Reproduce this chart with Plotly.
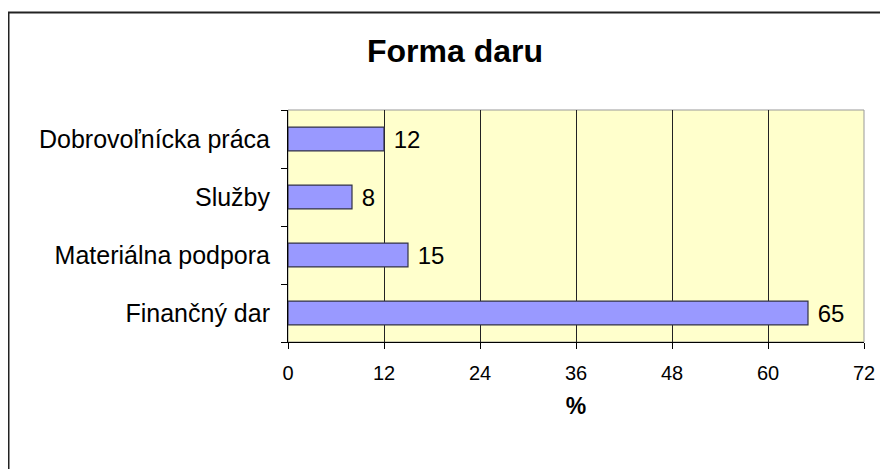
import plotly.graph_objects as go

categories = ["Finančný dar", "Materiálna podpora", "Služby", "Dobrovoľnícka práca"]
values = [65, 15, 8, 12]
x_ticks = [0, 12, 24, 36, 48, 60, 72]
title_text = "Forma daru"
x_title = "%"

OFF = 8  # default body margin of the html page
W, H = 888 - OFF, 469 - OFF
# plot area in page pixels
L, R, T, B = 288, 864, 110, 342

def px(x):
    return (x - L) / (R - L)

def py(y):
    return (B - y) / (B - T)

FONT = "Liberation Sans, Arial, sans-serif"

fig = go.Figure(
    go.Bar(
        y=categories,
        x=values,
        orientation="h",
        width=0.41,
        marker=dict(color="#9999FF", line=dict(color="#333344", width=1.2)),
        text=[str(v) for v in values],
        texttemplate=" %{text}",
        textposition="outside",
        constraintext="none",
        textfont=dict(family=FONT, size=24, color="#000000"),
        cliponaxis=False,
    )
)

fig.update_layout(
    width=W,
    height=H,
    margin=dict(l=L - OFF, r=W - (R - OFF), t=T - OFF, b=H - (B - OFF), pad=0),
    paper_bgcolor="#FFFFFF",
    plot_bgcolor="#FFFFCC",
    showlegend=False,
    font=dict(family=FONT, color="#000000"),
    bargap=0.59,
    uniformtext=dict(mode=False),
)

fig.update_xaxes(
    range=[0, 72],
    tickmode="array",
    tickvals=x_ticks,
    ticktext=[str(t) for t in x_ticks],
    showgrid=True,
    gridcolor="#222222",
    gridwidth=1,
    zeroline=False,
    showline=True,
    linecolor="#000000",
    linewidth=1,
    ticks="outside",
    ticklen=6,
    tickcolor="#000000",
    tickfont=dict(family=FONT, size=20),
    ticklabelstandoff=7,
    title=dict(text="<b>%s</b>" % x_title, font=dict(family=FONT, size=23), standoff=14),
)

fig.update_yaxes(
    type="category",
    categoryorder="array",
    categoryarray=categories,
    showgrid=False,
    zeroline=False,
    showline=True,
    linecolor="#000000",
    linewidth=1,
    ticks="outside",
    tickson="boundaries",
    ticklen=6,
    tickcolor="#000000",
    tickfont=dict(family=FONT, size=25),
    ticklabelstandoff=12,
)

fig.add_shape(
    type="rect", xref="paper", yref="paper",
    x0=0, x1=1, y0=0, y1=1,
    line=dict(color="#999999", width=1), layer="below",
)

# outer chart border (top and left visible, extends past the window)
fig.add_shape(
    type="rect", xref="paper", yref="paper",
    x0=px(8.5), x1=px(900), y0=py(480), y1=py(12.5),
    line=dict(color="#222222", width=2),
)

fig.add_annotation(
    text="<b>%s</b>" % title_text,
    xref="paper", yref="paper",
    x=px(455), y=py(51),
    showarrow=False,
    font=dict(family=FONT, size=32, color="#000000"),
    xanchor="center", yanchor="middle",
)

fig.write_html("out.html")
